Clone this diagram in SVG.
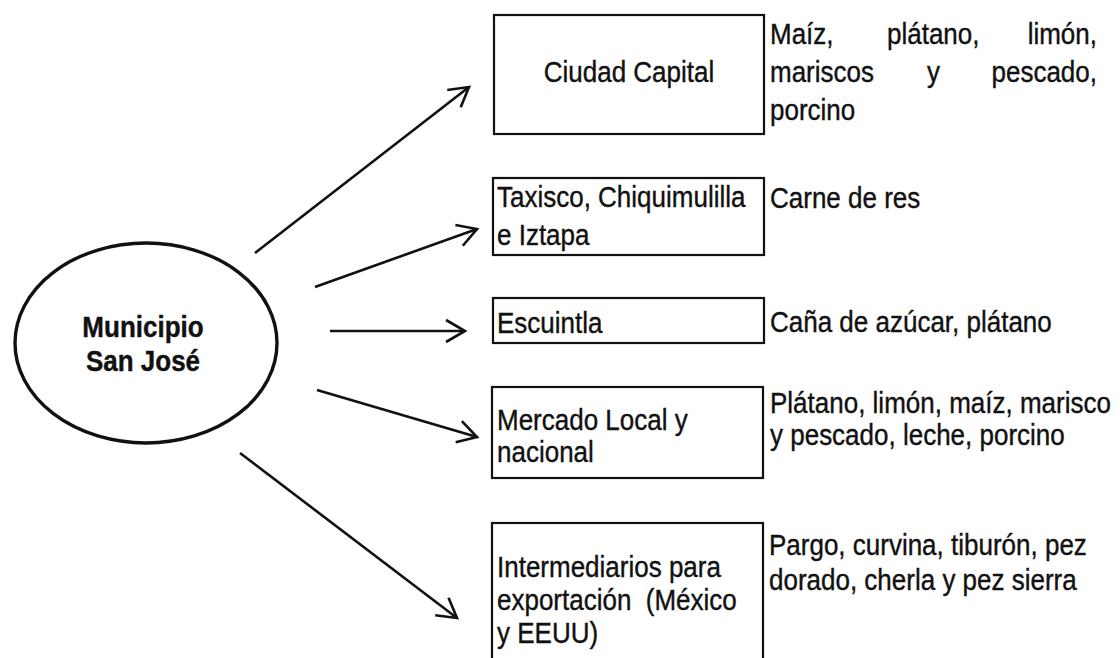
<svg xmlns="http://www.w3.org/2000/svg" width="1120" height="658" viewBox="0 0 1120 658">
<style>
.t{font-family:"Liberation Sans",Arial,sans-serif;font-size:26px;fill:#111;stroke:#111;stroke-width:0.35}
.b{font-weight:bold}
.box{fill:#fff;stroke:#111;stroke-width:2.2}
.con{stroke:#111;stroke-width:2.6;fill:none}
</style>
<defs>
<marker id="ah" viewBox="0 0 24 26" refX="21" refY="13" markerWidth="24" markerHeight="26" markerUnits="userSpaceOnUse" orient="auto">
<path d="M2,2 L21,13 L2,24" fill="none" stroke="#111" stroke-width="2.6"/>
</marker>
</defs>
<rect width="1120" height="658" fill="#fff"/>
<g id="connectors">
<line class="con" x1="255" y1="253" x2="469" y2="87" marker-end="url(#ah)"/>
<line class="con" x1="315" y1="287" x2="477" y2="229" marker-end="url(#ah)"/>
<line class="con" x1="330" y1="331" x2="465" y2="331" marker-end="url(#ah)"/>
<line class="con" x1="317" y1="390" x2="477" y2="437" marker-end="url(#ah)"/>
<line class="con" x1="240" y1="453" x2="457" y2="618" marker-end="url(#ah)"/>
</g>
<g id="municipio">
<ellipse cx="146" cy="343" rx="131" ry="100" fill="#fff" stroke="#111" stroke-width="3.4"/>
<text class="t b" text-anchor="middle" transform="translate(143,337) scale(1,1.12)">Municipio</text>
<text class="t b" text-anchor="middle" transform="translate(143,371) scale(1,1.12)">San José</text>
</g>
<g id="ciudad-capital">
<rect class="box" x="494" y="15" width="270" height="119"/>
<text class="t" text-anchor="middle" transform="translate(629,82) scale(1,1.12)">Ciudad Capital</text>
</g>
<g id="taxisco">
<rect class="box" x="493" y="178" width="271" height="77"/>
<text class="t" transform="translate(497,207) scale(1,1.12)">Taxisco, Chiquimulilla</text>
<text class="t" transform="translate(497,245) scale(1,1.12)">e Iztapa</text>
</g>
<g id="escuintla">
<rect class="box" x="493" y="298" width="271" height="45"/>
<text class="t" transform="translate(497,333) scale(1,1.12)">Escuintla</text>
</g>
<g id="mercado">
<rect class="box" x="492" y="387" width="271" height="91"/>
<text class="t" transform="translate(497,430) scale(1,1.12)">Mercado Local y</text>
<text class="t" transform="translate(497,462) scale(1,1.12)">nacional</text>
</g>
<g id="intermediarios">
<rect class="box" x="492" y="523" width="271" height="140"/>
<text class="t" transform="translate(497,577) scale(1,1.12)">Intermediarios para</text>
<text class="t" xml:space="preserve" transform="translate(497,610) scale(1,1.12)">exportación  (México</text>
<text class="t" transform="translate(497,643) scale(1,1.12)">y EEUU)</text>
</g>
<g id="productos">
<text class="t" transform="translate(770,44) scale(1,1.12)">Maíz,</text>
<text class="t" transform="translate(887,44) scale(1,1.12)">plátano,</text>
<text class="t" text-anchor="end" transform="translate(1097,44) scale(1,1.12)">limón,</text>
<text class="t" transform="translate(770,82) scale(1,1.12)">mariscos</text>
<text class="t" transform="translate(927,82) scale(1,1.12)">y</text>
<text class="t" text-anchor="end" transform="translate(1097,82) scale(1,1.12)">pescado,</text>
<text class="t" transform="translate(770,120) scale(1,1.12)">porcino</text>
<text class="t" transform="translate(770,208) scale(1,1.12)">Carne de res</text>
<text class="t" transform="translate(770,332) scale(1,1.12)">Caña de azúcar, plátano</text>
<text class="t" transform="translate(770,413) scale(1,1.12)">Plátano, limón, maíz, marisco</text>
<text class="t" transform="translate(770,445) scale(1,1.12)">y pescado, leche, porcino</text>
<text class="t" transform="translate(769,555) scale(1,1.12)">Pargo, curvina, tiburón, pez</text>
<text class="t" transform="translate(769,590) scale(1,1.12)">dorado, cherla y pez sierra</text>
</g>
</svg>
